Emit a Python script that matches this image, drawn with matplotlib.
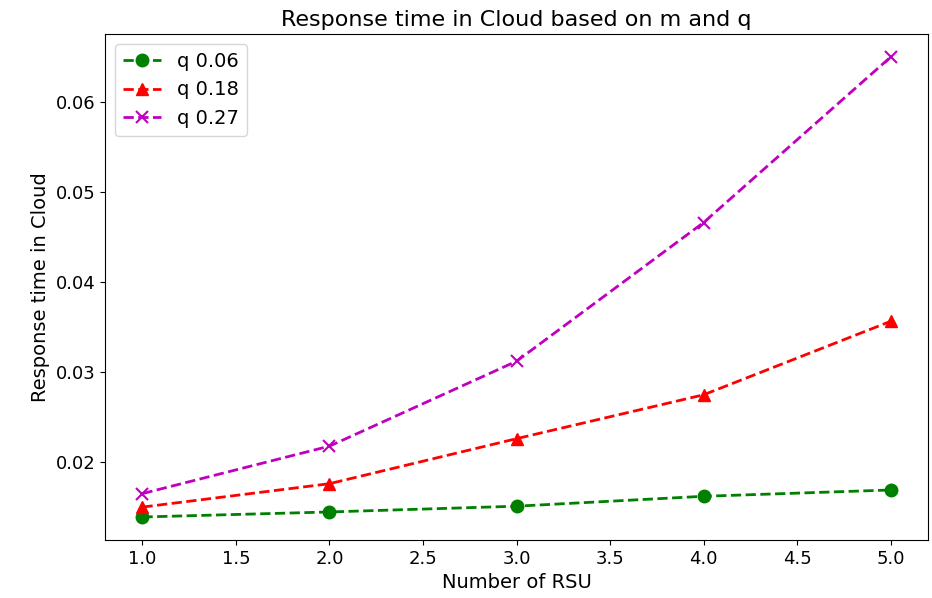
import matplotlib
matplotlib.use('Agg')
import matplotlib.pyplot as plt

rsu = [1, 2, 3, 4, 5]
q_006 = [0.0139, 0.01446, 0.0151, 0.0162, 0.0169]
q_018 = [0.0150, 0.0176, 0.0226, 0.02747, 0.03563]
q_027 = [0.0165, 0.02177, 0.0312, 0.0466, 0.06498]

fig = plt.figure(figsize=(9.32, 5.98), dpi=100)
ax = fig.add_axes([0.1127, 0.097, 0.883, 0.846])

ax.plot(rsu, q_006, '--o', color='green', lw=2, ms=9, label='q 0.06')
ax.plot(rsu, q_018, '--^', color='red', lw=2, ms=9, label='q 0.18')
ax.plot(rsu, q_027, '--x', color='m', lw=2, ms=9, mew=1.5, label='q 0.27')

ax.set_title('Response time in Cloud based on m and q', fontsize=16)
ax.set_xlabel('Number of RSU', fontsize=14)
ax.set_ylabel('Response time in Cloud', fontsize=14)
ax.tick_params(labelsize=13)
ax.legend(loc='upper left', fontsize=14)

fig.savefig('out.png')
